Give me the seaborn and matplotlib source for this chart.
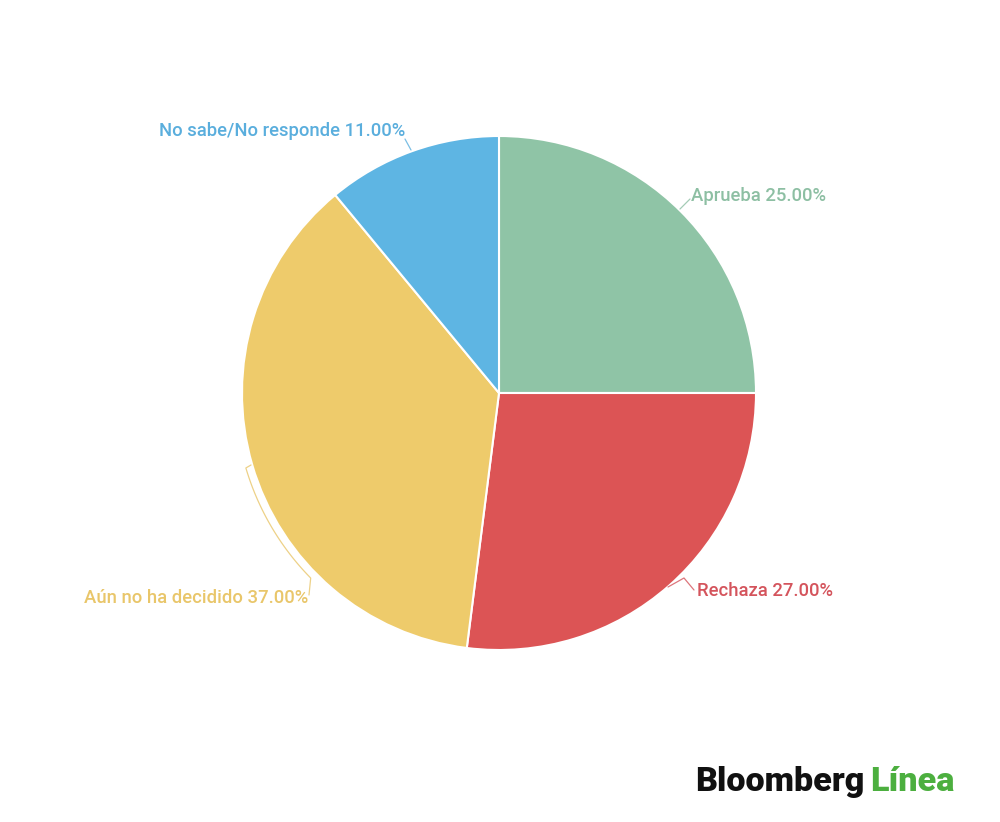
import matplotlib
matplotlib.use("Agg")
import matplotlib.pyplot as plt
import seaborn as sns
import numpy as np

categories = ["Aprueba", "Rechaza", "Aún no ha decidido", "No sabe/No responde"]
values = [25.0, 27.0, 37.0, 11.0]
colors = ["#8fc4a6", "#dc5455", "#eecb6b", "#5eb5e3"]
text_colors = ["#8dbfa3", "#d4545c", "#e9c66a", "#5aaedd"]

sns.set_theme(style="white")
plt.rcParams['font.family'] = ['Roboto', 'DejaVu Sans']

W, H = 1000, 822
fig = plt.figure(figsize=(10, 8.22), dpi=100)
fig.patch.set_facecolor("white")
ax = fig.add_axes([0, 0, 1, 1])

def P(x, y):
    return x, H - y

cx, cy = P(499, 393)
R = 257
ax.pie(values, colors=colors, startangle=90, counterclock=False,
       center=(cx, cy), radius=R,
       wedgeprops=dict(edgecolor="white", linewidth=1.5))
ax.set_xlim(0, W)
ax.set_ylim(0, H)
ax.set_aspect("equal")
ax.axis("off")

fs = 13.3
# label texts
lab = [f"{c} {v:.2f}%" for c, v in zip(categories, values)]
ax.text(*P(691, 196), lab[0], color=text_colors[0], fontsize=fs, ha="left", va="center", fontweight="medium")
ax.text(*P(697, 591), lab[1], color=text_colors[1], fontsize=fs, ha="left", va="center", fontweight="medium")
ax.text(*P(308, 598), lab[2], color=text_colors[2], fontsize=fs, ha="right", va="center", fontweight="medium")
ax.text(*P(405, 131), lab[3], color=text_colors[3], fontsize=fs, ha="right", va="center", fontweight="medium")

# leader lines
def line(pts, color):
    xs, ys = zip(*[P(x, y) for x, y in pts])
    ax.plot(xs, ys, color=color, lw=0.9, alpha=0.8)

line([(680, 209), (690, 199)], text_colors[0])
line([(668, 587), (684, 578), (694, 590)], text_colors[1])
line([(405, 139), (411, 150)], text_colors[3])
th = np.radians(np.linspace(224.5, 196.5, 60))
arc = [(499 + 264 * np.cos(t), 393 - 264 * np.sin(t)) for t in th]
line([(309, 595)] + arc + [(251, 465)], text_colors[2])

# logo
t1 = fig.text(695 / W, 1 - 791 / H, "Bloomberg", fontsize=24.6, fontweight="black",
              color="#111111", ha="left", va="baseline")
fig.canvas.draw()
bb = t1.get_window_extent()
fig.text((bb.x1 + 6) / W, 1 - 791 / H, "Línea", fontsize=24.6, fontweight="black",
         color="#4caf3f", ha="left", va="baseline")

fig.savefig("out.png", dpi=100, facecolor="white")
